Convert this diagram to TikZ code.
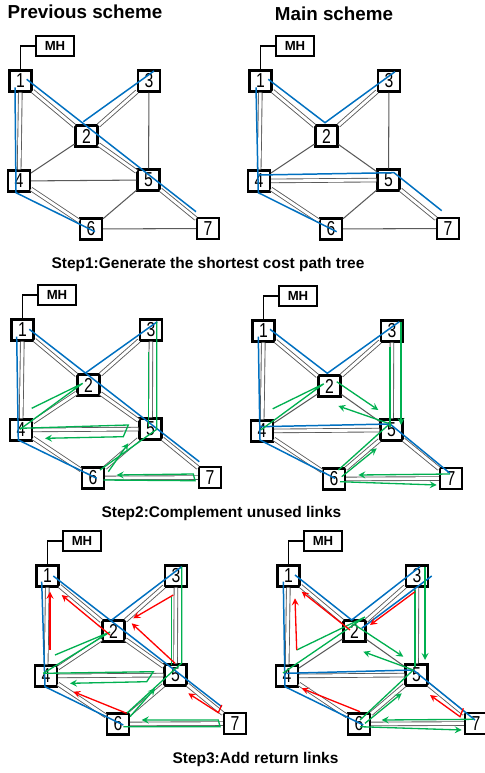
\documentclass[tikz,border=0pt]{standalone}
\usepackage{fontspec}
\setmainfont{Liberation Sans}
\newfontfamily\digitfont[FakeStretch=0.78]{Liberation Sans}

\definecolor{pathblue}{RGB}{0,112,192}
\definecolor{pathgreen}{RGB}{0,176,80}
\definecolor{linkgray}{RGB}{90,90,90}

\tikzset{
  router/.style={draw, line width=1.2pt, fill=white, minimum width=12.5pt, minimum height=12pt,
    inner sep=0pt, font=\digitfont\fontsize{11.5}{11.5}\selectfont},
  mhbox/.style={draw, line width=1pt, fill=white, minimum width=21.5pt, minimum height=11pt,
    inner sep=0pt, font=\bfseries\fontsize{7.5}{8}\selectfont},
  link/.style={linkgray, line width=0.6pt},
  tube/.style={draw=linkgray, line width=0.5pt, double=white, double distance=1.6pt},
  bluepath/.style={pathblue, line width=0.85pt},
  greenpath/.style={pathgreen, line width=0.75pt},
  redpath/.style={red, line width=0.75pt},
  title/.style={font=\bfseries\fontsize{10.7}{12}\selectfont},
  steptext/.style={font=\bfseries\fontsize{8.8}{10}\selectfont}
}

% one network: name prefix, shift x, shift y
\newcommand{\network}[3]{%
  \begin{scope}[shift={(#2,#3)}]
    \node[router] (#1-1) at (20.5,81) {1};
    \node[router] (#1-2) at (86.5,136) {2};
    \node[router] (#1-3) at (149,81) {3};
    \node[router] (#1-4) at (19,181) {4};
    \node[router] (#1-5) at (148.5,180) {5};
    \node[router] (#1-6) at (91,229) {6};
    \node[router] (#1-7) at (208,228.5) {7};
    \node[mhbox] (#1-mh) at (55,46) {MH};
    \draw[line width=0.6pt] (#1-1.north) |- (#1-mh.west);
  \end{scope}}

\begin{document}
\begin{tikzpicture}[x=0.02cm, y=-0.02cm, >=stealth]
\useasboundingbox (0,0) rectangle (484,773);

% Titles
\node[title] (prevtitle) at (85,12) {Previous scheme};
\node[title] (maintitle) at (334,14) {Main scheme};
\node[steptext] (step1) at (208,265) {Step1:Generate the shortest cost path tree};
\node[steptext] (step2) at (221.5,513) {Step2:Complement unused links};
\node[steptext] (step3) at (255.5,759) {Step3:Add return links};

% Step 1, previous scheme
\network{pa}{0}{0}
\foreach \a/\b in {1/2,2/3,2/5,5/7,1/4,4/6} \draw[tube] (pa-\a) -- (pa-\b);
\foreach \a/\b in {3/5,2/4,4/5,5/6,6/7} \draw[link] (pa-\a) -- (pa-\b);
\draw[bluepath] (26.7,79.3) -- (196,211.7);
\draw[bluepath] (83.3,121.7) -- (154,71);
\draw[bluepath] (15,87.3) -- (16,192.7) -- (95,231.7);

% Step 1, main scheme
\network{pb}{240}{0}
\foreach \a/\b in {1/2,2/3,1/4,4/5,5/7,4/6} \draw[tube] (pb-\a) -- (pb-\b);
\foreach \a/\b in {3/5,2/4,2/5,5/6,6/7} \draw[link] (pb-\a) -- (pb-\b);
\draw[bluepath] (268.3,79.3) -- (325,122.7) -- (395,71.7);
\draw[bluepath] (256,87.3) -- (258.3,192.7) -- (336.7,231.7);
\draw[bluepath] (258.3,175) -- (394,172.7) -- (441.7,210.7);

% Step 2, previous scheme
\network{pc}{2}{249}
\foreach \a/\b in {1/2,2/3,2/5,5/7,1/4,4/6,3/5,2/4,4/5,5/6,6/7} \draw[tube] (pc-\a) -- (pc-\b);
\draw[bluepath] (29.3,329.3) -- (199.3,461.7);
\draw[bluepath] (85,373.3) -- (157.3,321.7);
\draw[bluepath] (16.7,336.7) -- (18.3,440) -- (96.7,478.3);
\draw[greenpath] (31.7,408.3) -- (82.7,383.3) -- (20,429.3);
\draw[greenpath, ->] (20,428.3) -- (128.3,425) -- (123.3,436.7) -- (45,438.3);
\draw[greenpath] (156.7,321.7) -- (156.7,429.3) -- (100,470);
\draw[greenpath] (148.3,351.7) -- (148.3,426.7);
\draw[greenpath, ->] (108.3,471.7) -- (128.3,443.3);
\draw[greenpath, ->] (103.3,480) -- (195,480.7) -- (193.3,474) -- (116.7,475);

% Step 2, main scheme
\network{pd}{243}{250}
\foreach \a/\b in {1/2,2/3,1/4,4/5,5/7,4/6,3/5,5/6,6/7} \draw[tube] (pd-\a) -- (pd-\b);
\foreach \a/\b in {2/4,2/5} \draw[link] (pd-\a) -- (pd-\b);
\draw[bluepath] (270,329.3) -- (327.3,373.3) -- (399.3,321.7);
\draw[bluepath] (258.3,336.7) -- (260,440) -- (335,478.3);
\draw[bluepath] (260,426.7) -- (390,424) -- (450,473.3);
\draw[greenpath] (272.7,408.8) -- (323.7,383.8) -- (261,429.8);
\draw[greenpath, ->] (336.7,381.7) -- (378.3,410);
\draw[greenpath, ->] (388.3,423.3) -- (338.3,406);
\draw[greenpath] (390,346.7) -- (390,426.7);
\draw[greenpath, ->] (401,321.7) -- (401,425);
\draw[greenpath] (388.3,425) -- (338.3,470);
\draw[greenpath, ->] (341.7,476.7) -- (376.7,448.3);
\draw[greenpath, ->] (450,474) -- (358.3,475);
\draw[greenpath, ->] (340,481.7) -- (436.7,485);

% Step 3, previous scheme
\network{pe}{27}{495}
\foreach \a/\b in {1/2,2/3,2/5,5/7,1/4,4/6,3/5,2/4,4/5,5/6,6/7} \draw[tube] (pe-\a) -- (pe-\b);
\draw[bluepath] (53.3,576) -- (221.7,706.7);
\draw[bluepath] (111.7,620) -- (181.7,566.7);
\draw[bluepath] (41.7,581.7) -- (45,686.7) -- (123.3,725);
\draw[greenpath] (181.7,566.7) -- (181.7,663) -- (126.7,713.3);
\draw[greenpath] (171.7,596.7) -- (171.7,665);
\draw[greenpath] (55,655) -- (110,632) -- (43.3,673.3);
\draw[greenpath, ->] (43.3,673.3) -- (153.3,671.7) -- (146.7,681.7) -- (70,683.3);
\draw[greenpath, ->] (130,716.7) -- (155,688.3);
\draw[greenpath, ->] (123.3,726.7) -- (220,726.7) -- (218.3,720) -- (141.7,720);
\draw[redpath, ->] (50,650) -- (50,591.7);
\draw[redpath, ->] (110,635) -- (61.7,595);
\draw[redpath, ->] (173.3,595) -- (133.3,618.3);
\draw[redpath, ->] (175,663.3) -- (131.7,623.3);
\draw[redpath, ->] (126.7,713.3) -- (73.3,691.7);
\draw[redpath, ->] (221.7,705) -- (218.3,712.7) -- (188.3,693.3);

% Step 3, main scheme
\network{pf}{268}{495}
\foreach \a/\b in {1/2,2/3,1/4,4/5,5/7,4/6,3/5,5/6,6/7} \draw[tube] (pf-\a) -- (pf-\b);
\foreach \a/\b in {2/4,2/5} \draw[link] (pf-\a) -- (pf-\b);
\draw[bluepath] (295,575) -- (351.7,620) -- (420,566.7);
\draw[bluepath] (431.7,576) -- (361.7,628.3);
\draw[bluepath] (283.3,581.7) -- (285,686.7) -- (363.3,725);
\draw[bluepath] (286.7,673.3) -- (413.3,670) -- (475,720);
\draw[greenpath] (296.7,650) -- (365,617) -- (283,673);
\draw[greenpath, ->] (425,566.7) -- (425,660);
\draw[greenpath] (415,590) -- (415,666.7);
\draw[greenpath, ->] (355,625) -- (403.3,656.7);
\draw[greenpath, ->] (413.3,670) -- (363.3,651.7);
\draw[greenpath] (413.3,670) -- (360,720);
\draw[greenpath, ->] (365,723.3) -- (401.7,693.3);
\draw[greenpath, ->] (473.3,719.3) -- (381.7,720);
\draw[greenpath, ->] (360,726.7) -- (461.7,730);
\draw[redpath, ->] (296.7,650) -- (295,598.3);
\draw[redpath, ->] (350,630) -- (301.7,591.7);
\draw[redpath, ->] (415,591.7) -- (370,625);
\draw[redpath, ->] (360,711.7) -- (301.7,688.3);
\draw[redpath, ->] (463.3,708.3) -- (460,716.7) -- (430,695);
\end{tikzpicture}
\end{document}
